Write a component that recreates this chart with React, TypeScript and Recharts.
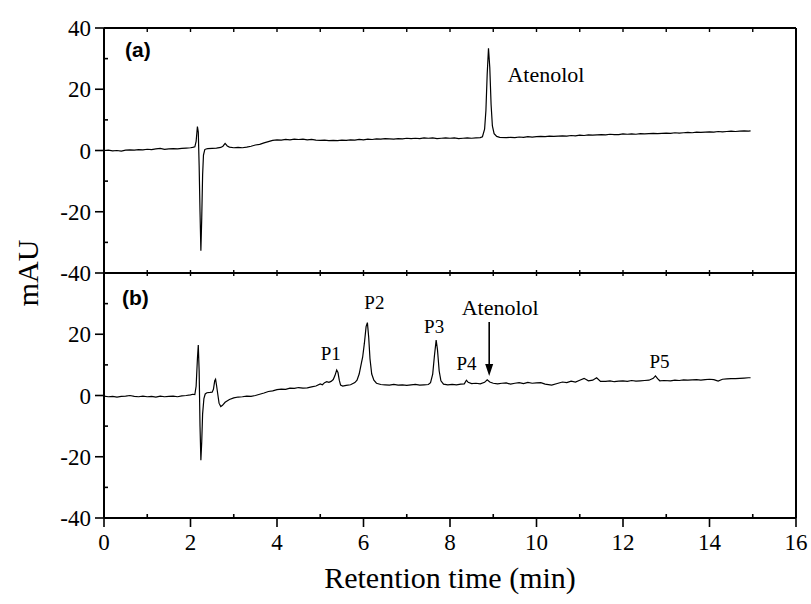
import React from 'react'
import { LineChart, Line, XAxis, YAxis, ReferenceDot } from 'recharts'

// chromatogram (a): standard, [time (min), absorbance (mAU)]
const traceA: [number, number][] = [
    [0, 0.0], [0.1, 0.1], [0.2, -0.1], [0.3, 0.0], [0.4, -0.2], [0.5, 0.1], [0.6, 0.2], [0.7, 0.1],
    [0.8, 0.3], [0.9, 0.2], [1.0, 0.4], [1.1, 0.3], [1.2, 0.5], [1.3, 0.7], [1.4, 0.4], [1.5, 0.5],
    [1.6, 0.6], [1.7, 0.5], [1.8, 0.7], [1.9, 0.8], [2.0, 0.9], [2.05, 1.0], [2.1, 1.2], [2.13, 3.0],
    [2.16, 7.8], [2.18, 6.0], [2.2, -5], [2.22, -20], [2.24, -32.7], [2.26, -22], [2.28, -8], [2.3, -1.5],
    [2.33, 0.3], [2.36, 0.5], [2.4, 0.6], [2.5, 0.7], [2.6, 0.8], [2.7, 1.0], [2.75, 1.4], [2.8, 2.3],
    [2.85, 1.5], [2.9, 1.1], [3.0, 0.9], [3.1, 1.0], [3.2, 0.9], [3.3, 1.1], [3.4, 1.4], [3.5, 1.8],
    [3.6, 2.0], [3.7, 2.5], [3.8, 2.9], [3.9, 3.3], [4.0, 3.5], [4.1, 3.4], [4.2, 3.6], [4.3, 3.5],
    [4.4, 3.7], [4.5, 3.6], [4.6, 3.7], [4.7, 3.5], [4.8, 3.6], [4.9, 3.4], [5.0, 3.3], [5.1, 3.4],
    [5.2, 3.2], [5.3, 3.3], [5.4, 3.2], [5.5, 3.4], [5.6, 3.3], [5.7, 3.5], [5.8, 3.4], [5.9, 3.6],
    [6.0, 3.5], [6.1, 3.7], [6.2, 3.6], [6.3, 3.8], [6.4, 3.7], [6.5, 3.9], [6.6, 3.8], [6.7, 3.7],
    [6.8, 3.9], [6.9, 3.8], [7.0, 4.0], [7.1, 3.9], [7.2, 4.0], [7.3, 3.9], [7.4, 4.1], [7.5, 4.0],
    [7.6, 4.1], [7.7, 3.9], [7.8, 4.0], [7.9, 4.1], [8.0, 4.0], [8.1, 4.1], [8.2, 3.9], [8.3, 4.0],
    [8.4, 4.1], [8.5, 4.0], [8.6, 4.1], [8.7, 4.2], [8.75, 4.5], [8.8, 7], [8.83, 13], [8.86, 25],
    [8.89, 33.4], [8.92, 27], [8.95, 15], [8.98, 8], [9.02, 5.5], [9.08, 4.6], [9.15, 4.3], [9.3, 4.2],
    [9.4, 4.3], [9.5, 4.2], [9.6, 4.4], [9.7, 4.3], [9.8, 4.5], [9.9, 4.4], [10.0, 4.5], [10.1, 4.6],
    [10.2, 4.5], [10.3, 4.7], [10.4, 4.6], [10.5, 4.7], [10.6, 4.8], [10.7, 4.7], [10.8, 4.9], [10.9, 4.8],
    [11.0, 5.0], [11.1, 4.9], [11.2, 5.1], [11.3, 5.0], [11.4, 5.1], [11.5, 5.2], [11.6, 5.1], [11.7, 5.3],
    [11.8, 5.2], [11.9, 5.2], [12.0, 5.4], [12.1, 5.3], [12.2, 5.4], [12.3, 5.3], [12.4, 5.5], [12.5, 5.4],
    [12.6, 5.5], [12.7, 5.6], [12.8, 5.5], [12.9, 5.6], [13.0, 5.7], [13.1, 5.6], [13.2, 5.8], [13.3, 5.7],
    [13.4, 5.8], [13.5, 5.9], [13.6, 5.8], [13.7, 6.0], [13.8, 5.9], [13.9, 6.0], [14.0, 6.1], [14.1, 6.0],
    [14.2, 6.2], [14.3, 6.1], [14.4, 6.2], [14.5, 6.3], [14.6, 6.2], [14.7, 6.3], [14.8, 6.4], [14.9, 6.3],
    [14.95, 6.4],
]

// chromatogram (b): degraded sample
const traceB: [number, number][] = [
    [0, -0.2], [0.1, -0.4], [0.2, -0.3], [0.3, -0.5], [0.4, -0.3], [0.5, -0.2], [0.6, 0.0], [0.7, -0.3],
    [0.8, -0.4], [0.9, -0.2], [1.0, -0.4], [1.1, -0.3], [1.2, -0.5], [1.3, -0.2], [1.4, -0.4], [1.5, -0.3],
    [1.6, -0.2], [1.7, -0.4], [1.8, -0.1], [1.9, 0.0], [2.0, 0.2], [2.05, 0.4], [2.1, 0.3], [2.13, 3],
    [2.16, 12], [2.18, 16.5], [2.2, 8], [2.22, -10], [2.24, -21.1], [2.26, -15], [2.28, -6], [2.31, -1],
    [2.34, 0.5], [2.38, 0.9], [2.45, 1.0], [2.5, 1.1], [2.53, 2.0], [2.56, 4.8], [2.58, 5.3], [2.6, 3.5],
    [2.63, 0.5], [2.66, -2.5], [2.7, -3.6], [2.74, -3.2], [2.8, -2.2], [2.9, -1.3], [3.0, -0.8], [3.1, -0.5],
    [3.2, -0.4], [3.3, -0.2], [3.4, -0.3], [3.5, 0.0], [3.6, 0.4], [3.7, 0.8], [3.8, 1.3], [3.9, 1.5],
    [4.0, 1.9], [4.1, 2.1], [4.2, 2.0], [4.3, 2.4], [4.4, 2.3], [4.5, 2.6], [4.6, 2.4], [4.7, 2.5],
    [4.8, 2.8], [4.9, 3.1], [5.0, 3.8], [5.05, 3.5], [5.1, 4.2], [5.15, 4.5], [5.2, 4.3], [5.25, 4.6],
    [5.3, 5.2], [5.34, 6.5], [5.38, 8.3], [5.41, 7.5], [5.44, 5], [5.47, 3.4], [5.52, 3.1], [5.6, 3.3],
    [5.7, 3.5], [5.8, 4.2], [5.85, 5.0], [5.9, 7.0], [5.95, 10.5], [5.98, 12.5], [6.02, 17], [6.06, 22.5],
    [6.09, 23.8], [6.12, 19], [6.15, 12], [6.19, 7], [6.24, 5], [6.3, 4.0], [6.4, 3.6], [6.5, 3.5],
    [6.6, 3.4], [6.7, 3.6], [6.8, 3.4], [6.9, 3.5], [7.0, 3.3], [7.1, 3.5], [7.2, 3.6], [7.3, 3.4],
    [7.4, 3.5], [7.5, 3.6], [7.55, 4.2], [7.6, 7], [7.64, 13], [7.68, 18.1], [7.71, 15], [7.75, 8],
    [7.79, 4.8], [7.85, 3.7], [7.95, 3.5], [8.05, 3.6], [8.15, 3.5], [8.25, 3.7], [8.33, 3.8], [8.38, 5.0],
    [8.42, 4.3], [8.5, 3.9], [8.6, 4.0], [8.7, 3.8], [8.8, 4.3], [8.86, 5.1], [8.92, 4.4], [9.0, 4.0],
    [9.1, 3.8], [9.2, 4.0], [9.3, 4.1], [9.4, 3.7], [9.5, 4.0], [9.6, 4.2], [9.7, 3.9], [9.8, 4.3],
    [9.9, 4.0], [10.0, 4.1], [10.1, 4.2], [10.2, 3.7], [10.35, 3.4], [10.5, 4.0], [10.6, 4.4], [10.7, 4.2],
    [10.8, 4.7], [10.9, 4.4], [11.0, 5.0], [11.1, 5.6], [11.2, 4.8], [11.3, 5.0], [11.39, 5.8], [11.48, 4.6],
    [11.6, 4.6], [11.7, 4.8], [11.8, 4.5], [11.9, 4.7], [12.0, 4.8], [12.1, 4.6], [12.2, 4.9], [12.3, 4.7],
    [12.4, 4.8], [12.5, 4.9], [12.6, 5.0], [12.7, 5.6], [12.75, 6.4], [12.8, 5.5], [12.85, 4.8], [12.95, 4.9],
    [13.1, 4.8], [13.2, 5.0], [13.3, 4.9], [13.4, 5.1], [13.5, 5.0], [13.6, 5.1], [13.7, 5.2], [13.8, 5.0],
    [13.9, 5.2], [14.0, 5.3], [14.1, 5.2], [14.2, 4.7], [14.3, 5.3], [14.4, 5.4], [14.5, 5.5], [14.6, 5.5],
    [14.7, 5.6], [14.8, 5.7], [14.9, 5.8], [14.95, 5.8],
]

// degradation products in (b)
const peakNames = ['P1', 'P2', 'P3', 'P4', 'P5']
const peakTimes = [5.38, 6.09, 7.68, 8.38, 12.75]
const peakHeights = [8.3, 23.8, 18.1, 5.0, 6.4]

// atenolol peak: full peak in (a), trace in (b)
const atenololA = { t: 8.89, v: 33.4 }
const atenololB = { t: 8.86, v: 5.1 }

const xTicks = [0, 1, 2, 3, 4, 5, 6, 7, 8, 9, 10, 11, 12, 13, 14, 15, 16]
const yTicks = [-40, -30, -20, -10, 0, 10, 20, 30, 40]

const W = 811
const H = 604
const LEFT = 104
const RIGHT = 796
const TOP = 28
const MID = 273
const BOTTOM = 518

const serif = '"Liberation Serif", "Times New Roman", serif'
const sans = '"Liberation Sans", Arial, sans-serif'

const dataA = traceA.map(([t, v]) => ({ t, v }))
const dataB = traceB.map(([t, v]) => ({ t, v }))

// small hand nudges so the product labels sit like the printed figure
const labelNudge: Record<string, [number, number]> = {
    P1: [-6, -10],
    P2: [7, -14],
    P3: [-2, -7],
    P4: [0, -10],
    P5: [4, -8],
}

const BottomTick = (props: any) => {
    const { x, y, payload } = props
    const major = payload.value % 2 === 0
    return (
        <g>
            <line x1={x} x2={x} y1={y} y2={major ? y + 9 : y - 4} stroke="#000" strokeWidth={1.6} />
            {major && (
                <text x={x} y={y + 32} textAnchor="middle" fontFamily={serif} fontSize={23} fill="#000">
                    {payload.value}
                </text>
            )}
        </g>
    )
}

const DividerTick = (props: any) => {
    const { x, y } = props
    return <line x1={x} x2={x} y1={y - 3} y2={y + 3} stroke="#000" strokeWidth={1.4} />
}

const TopTick = (props: any) => {
    const { x, y } = props
    return <line x1={x} x2={x} y1={y} y2={y + 4} stroke="#000" strokeWidth={1.4} />
}

const makeLeftTick = (skipTop: boolean) => (props: any) => {
    const { x, y, payload } = props
    const v = payload.value
    const major = v % 20 === 0
    if (skipTop && v === 40) return <g />
    return (
        <g>
            <line x1={x} x2={major ? x - 9 : x + 4} y1={y} y2={y} stroke="#000" strokeWidth={1.6} />
            {major && (
                <text x={x - 13} y={y + 8} textAnchor="end" fontFamily={serif} fontSize={23} fill="#000">
                    {v}
                </text>
            )}
        </g>
    )
}

const RightTick = (props: any) => {
    const { x, y, payload } = props
    if (Math.abs(payload.value) === 40) return <g />
    return <line x1={x} x2={x - 4} y1={y} y2={y} stroke="#000" strokeWidth={1.4} />
}

const axisLine = { stroke: '#000', strokeWidth: 2 }

export default function App() {
    return (
        <div style={{ position: 'absolute', left: 0, top: 0, width: W, height: H, background: '#fff' }}>
            {/* panel (a) */}
            <div style={{ position: 'absolute', left: 0, top: 0 }}>
                <LineChart
                    width={W}
                    height={H}
                    data={dataA}
                    margin={{ top: TOP - 20, right: W - RIGHT - 10, bottom: H - MID - 40, left: LEFT - 60 }}
                >
                    <XAxis
                        xAxisId="b"
                        dataKey="t"
                        type="number"
                        domain={[0, 16]}
                        ticks={xTicks}
                        interval={0}
                        height={40}
                        tickSize={0}
                        tickMargin={0}
                        tickLine={false}
                        axisLine={axisLine}
                        tick={<DividerTick />}
                    />
                    <XAxis
                        xAxisId="top"
                        orientation="top"
                        dataKey="t"
                        type="number"
                        domain={[0, 16]}
                        ticks={xTicks.slice(1, -1)}
                        interval={0}
                        height={20}
                        tickSize={0}
                        tickMargin={0}
                        tickLine={false}
                        axisLine={axisLine}
                        tick={<TopTick />}
                    />
                    <YAxis
                        yAxisId="l"
                        type="number"
                        domain={[-40, 40]}
                        ticks={yTicks}
                        interval={0}
                        width={60}
                        tickSize={0}
                        tickMargin={0}
                        tickLine={false}
                        axisLine={axisLine}
                        tick={makeLeftTick(false)}
                    />
                    <YAxis
                        yAxisId="r"
                        orientation="right"
                        type="number"
                        domain={[-40, 40]}
                        ticks={yTicks}
                        interval={0}
                        width={10}
                        tickSize={0}
                        tickMargin={0}
                        tickLine={false}
                        axisLine={axisLine}
                        tick={<RightTick />}
                    />
                    <Line
                        xAxisId="b"
                        yAxisId="l"
                        type="linear"
                        dataKey="v"
                        stroke="#000"
                        strokeWidth={1.2}
                        dot={false}
                        isAnimationActive={false}
                    />
                    <ReferenceDot
                        xAxisId="b"
                        yAxisId="l"
                        x={atenololA.t}
                        y={atenololA.v}
                        r={0}
                        shape={(p: any) => (
                            <text x={p.cx + 19} y={p.cy + 34} fontFamily={serif} fontSize={22} fill="#000">
                                Atenolol
                            </text>
                        )}
                    />
                </LineChart>
            </div>

            {/* panel (b) */}
            <div style={{ position: 'absolute', left: 0, top: 0 }}>
                <LineChart
                    width={W}
                    height={H}
                    data={dataB}
                    margin={{ top: MID, right: W - RIGHT - 10, bottom: H - BOTTOM - 40, left: LEFT - 60 }}
                >
                    <XAxis
                        xAxisId="b"
                        dataKey="t"
                        type="number"
                        domain={[0, 16]}
                        ticks={xTicks}
                        interval={0}
                        height={40}
                        tickSize={0}
                        tickMargin={0}
                        tickLine={false}
                        axisLine={axisLine}
                        tick={<BottomTick />}
                    />
                    <YAxis
                        yAxisId="l"
                        type="number"
                        domain={[-40, 40]}
                        ticks={yTicks}
                        interval={0}
                        width={60}
                        tickSize={0}
                        tickMargin={0}
                        tickLine={false}
                        axisLine={axisLine}
                        tick={makeLeftTick(true)}
                    />
                    <YAxis
                        yAxisId="r"
                        orientation="right"
                        type="number"
                        domain={[-40, 40]}
                        ticks={yTicks}
                        interval={0}
                        width={10}
                        tickSize={0}
                        tickMargin={0}
                        tickLine={false}
                        axisLine={axisLine}
                        tick={<RightTick />}
                    />
                    <Line
                        xAxisId="b"
                        yAxisId="l"
                        type="linear"
                        dataKey="v"
                        stroke="#000"
                        strokeWidth={1.2}
                        dot={false}
                        isAnimationActive={false}
                    />
                    {peakNames.map((name, i) => (
                        <ReferenceDot
                            key={name}
                            xAxisId="b"
                            yAxisId="l"
                            x={peakTimes[i]}
                            y={peakHeights[i]}
                            r={0}
                            shape={(p: any) => (
                                <text
                                    x={p.cx + labelNudge[name][0]}
                                    y={p.cy + labelNudge[name][1]}
                                    textAnchor="middle"
                                    fontFamily={serif}
                                    fontSize={19}
                                    fill="#000"
                                >
                                    {name}
                                </text>
                            )}
                        />
                    ))}
                    <ReferenceDot
                        xAxisId="b"
                        yAxisId="l"
                        x={atenololB.t}
                        y={atenololB.v}
                        r={0}
                        shape={(p: any) => (
                            <g>
                                <line x1={p.cx + 2} x2={p.cx + 2} y1={p.cy - 58} y2={p.cy - 14} stroke="#000" strokeWidth={1.6} />
                                <polygon
                                    points={`${p.cx + 2},${p.cy - 4} ${p.cx - 2},${p.cy - 16} ${p.cx + 6},${p.cy - 16}`}
                                    fill="#000"
                                />
                                <text x={p.cx + 13} y={p.cy - 65} textAnchor="middle" fontFamily={serif} fontSize={22} fill="#000">
                                    Atenolol
                                </text>
                            </g>
                        )}
                    />
                </LineChart>
            </div>

            {/* shared titles and panel tags */}
            <svg width={W} height={H} style={{ position: 'absolute', left: 0, top: 0, pointerEvents: 'none' }}>
                <text x={125} y={57} fontFamily={sans} fontWeight="bold" fontSize={21} fill="#000">(a)</text>
                <text x={122} y={305} fontFamily={sans} fontWeight="bold" fontSize={21} fill="#000">(b)</text>
                <text
                    x={0}
                    y={0}
                    transform={`translate(38, ${MID}) rotate(-90)`}
                    textAnchor="middle"
                    fontFamily={serif}
                    fontSize={30}
                    fill="#000"
                >
                    mAU
                </text>
                <text x={(LEFT + RIGHT) / 2} y={588} textAnchor="middle" fontFamily={serif} fontSize={30} fill="#000">
                    Retention time (min)
                </text>
            </svg>
        </div>
    )
}
